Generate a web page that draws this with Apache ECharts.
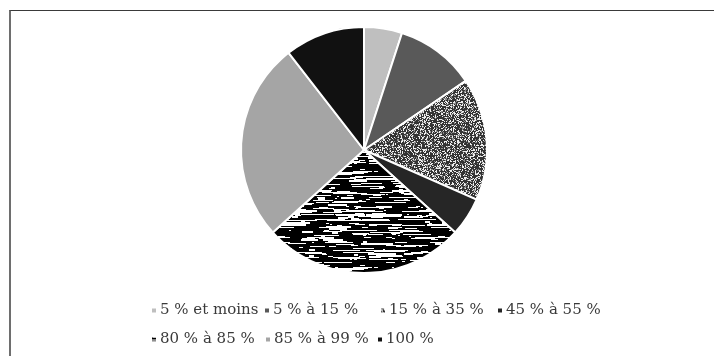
<!DOCTYPE html>
<html>
<head>
<meta charset="utf-8">
<script src="https://cdn.jsdelivr.net/npm/echarts@6/dist/echarts.min.js"></script>
<style>
  html, body { margin: 0; padding: 0; background: #fff; }
  #frame { position: absolute; left: 9px; top: 10px; width: 705px; height: 346px;
           border-top: 1px solid #3a3a3a; border-left: 2px solid #6e6e6e; box-sizing: border-box; }
  #chart { position: absolute; left: 0; top: 0; width: 714px; height: 356px; }
</style>
</head>
<body>
<div id="frame"></div>
<div id="chart"></div>
<script>
// Share of each bracket
const categories = ['5 % et moins', '5 % à 15 %', '15 % à 35 %', '45 % à 55 %', '80 % à 85 %', '85 % à 99 %', '100 %'];
const values = [5.0, 10.5, 16.1, 5.1, 26.6, 26.2, 10.5];

// Small deterministic generator for the fill textures
function makeRng(seed) {
  let s = seed >>> 0;
  return function () {
    s = (s * 1664525 + 1013904223) >>> 0;
    return s / 4294967296;
  };
}

// Fine white speckle on dark grey
function speckleTexture() {
  const c = document.createElement('canvas');
  c.width = 96; c.height = 96;
  const ctx = c.getContext('2d');
  ctx.fillStyle = '#333333';
  ctx.fillRect(0, 0, c.width, c.height);
  const rnd = makeRng(7);
  for (let y = 0; y < c.height; y++) {
    for (let x = 0; x < c.width; x++) {
      const r = rnd();
      if (r < 0.26) { ctx.fillStyle = '#eeeeee'; ctx.fillRect(x, y, 1, 1); }
      else if (r < 0.42) { ctx.fillStyle = '#8c8c8c'; ctx.fillRect(x, y, 1, 1); }
    }
  }
  return c;
}

// Horizontal white streaks on black
function streakTexture() {
  const c = document.createElement('canvas');
  c.width = 160; c.height = 96;
  const ctx = c.getContext('2d');
  ctx.fillStyle = '#000';
  ctx.fillRect(0, 0, c.width, c.height);
  const rnd = makeRng(31);
  ctx.fillStyle = '#fff';
  for (let i = 0; i < 380; i++) {
    const x = Math.floor(rnd() * c.width);
    const y = Math.floor(rnd() * c.height);
    const len = 2 + Math.floor(rnd() * rnd() * 46);
    const h = rnd() < 0.8 ? 1 : 2;
    ctx.fillRect(x, y, len, h);
    if (x + len > c.width) ctx.fillRect(x - c.width, y, len, h);
  }
  return c;
}

const colors = [
  '#bfbfbf',
  '#595959',
  { image: speckleTexture(), repeat: 'repeat' },
  '#262626',
  { image: streakTexture(), repeat: 'repeat' },
  '#a5a5a5',
  '#111111'
];

// Legend slots, two rows
const legendSlots = [
  [150, 303], [263, 303], [379, 303], [496, 303],
  [150, 332], [264, 332], [376, 332]
];

const chart = echarts.init(document.getElementById('chart'), null, { renderer: 'canvas' });

const legends = categories.map((name, i) => ({
  data: [name],
  left: legendSlots[i][0],
  top: legendSlots[i][1],
  orient: 'horizontal',
  icon: 'rect',
  itemWidth: 6,
  itemHeight: 6,
  itemGap: 0,
  selectedMode: false,
  padding: 0,
  textStyle: {
    fontFamily: '"DejaVu Serif", "Liberation Serif", serif',
    fontSize: 15,
    color: '#3a3a3a',
    padding: [0, 0, 0, -2]
  }
}));

chart.setOption({
  animation: false,
  backgroundColor: 'transparent',
  legend: legends,
  series: [{
    type: 'pie',
    center: [364, 150],
    radius: 123,
    startAngle: 90,
    clockwise: true,
    label: { show: false },
    labelLine: { show: false },
    emphasis: { disabled: true },
    itemStyle: { borderColor: '#ffffff', borderWidth: 2 },
    data: categories.map((name, i) => ({
      name: name,
      value: values[i],
      itemStyle: { color: colors[i] }
    }))
  }]
});
</script>
</body>
</html>
